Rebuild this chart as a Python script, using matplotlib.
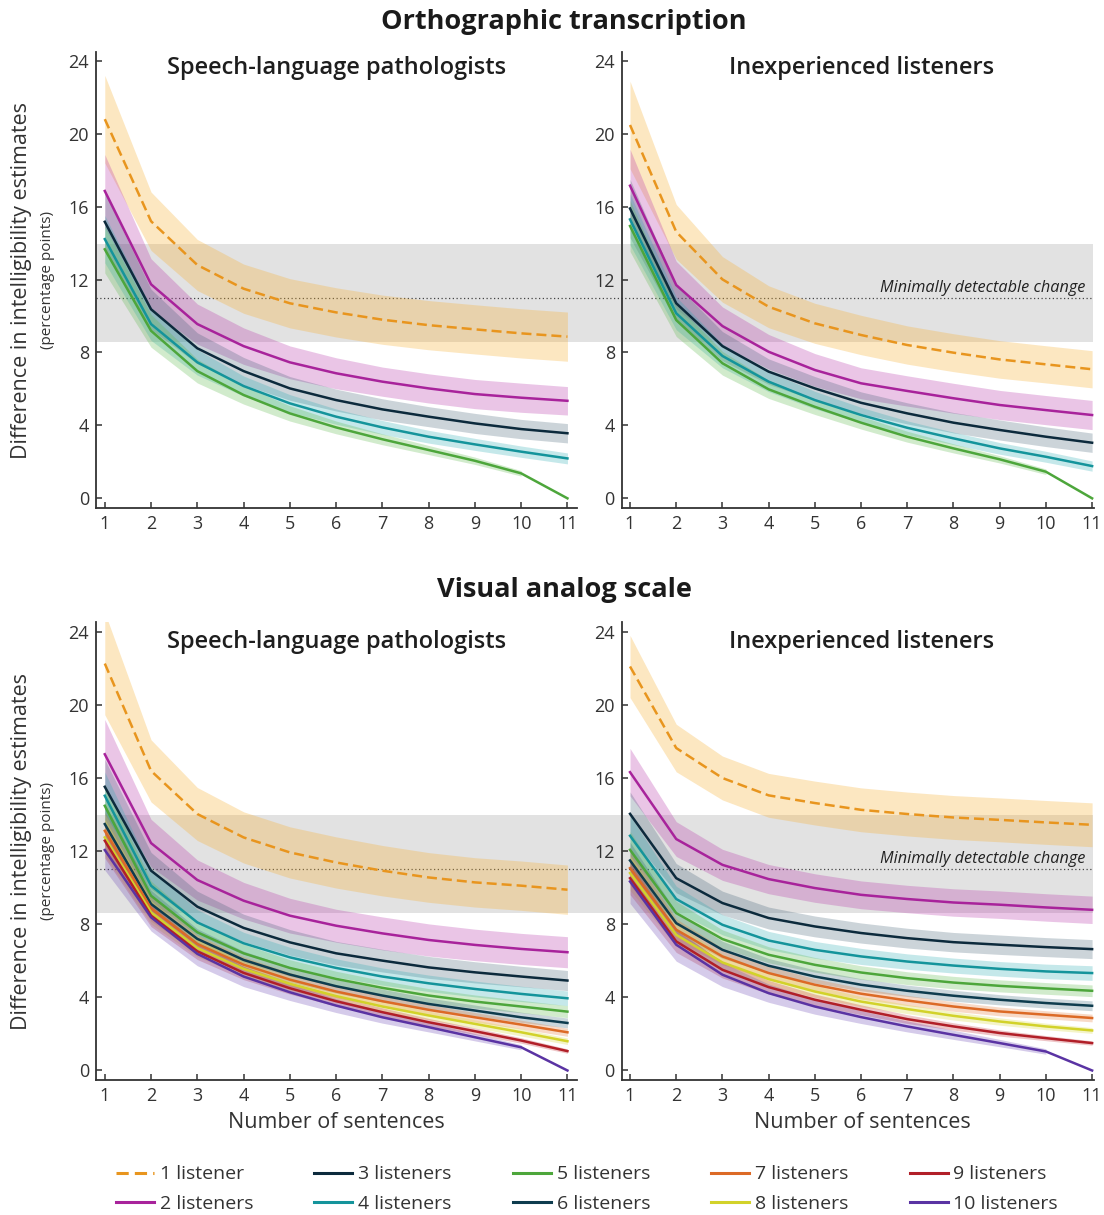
import numpy as np
import matplotlib
matplotlib.use("Agg")
import matplotlib.pyplot as plt
from matplotlib.transforms import blended_transform_factory
from matplotlib.patches import Rectangle
from matplotlib.lines import Line2D

nan = np.nan

# ---------------- data ----------------
sentences = list(range(1, 12))
listener_labels = ["1 listener", "2 listeners", "3 listeners", "4 listeners", "5 listeners",
                   "6 listeners", "7 listeners", "8 listeners", "9 listeners", "10 listeners"]
row_titles = ["Orthographic transcription", "Visual analog scale"]
panel_titles = ["Speech-language pathologists", "Inexperienced listeners"]
y_ticks = [0, 4, 8, 12, 16, 20, 24]
mdc_value = 11.0
mdc_low = 8.6
mdc_high = 13.95

# Orthographic transcription, speech-language pathologists
ot_slp_mean = [
    [20.8, 15.2, 12.8, 11.5, 10.7, 10.2, 9.8, 9.5, 9.27, 9.05, 8.87],
    [16.86, 11.74, 9.56, 8.35, 7.46, 6.86, 6.40, 6.03, 5.72, 5.52, 5.35],
    [15.17, 10.37, 8.23, 6.98, 6.03, 5.39, 4.88, 4.48, 4.11, 3.80, 3.57],
    [14.22, 9.56, 7.46, 6.16, 5.21, 4.48, 3.89, 3.38, 2.96, 2.56, 2.19],
    [13.66, 9.19, 6.98, 5.67, 4.66, 3.89, 3.24, 2.65, 2.06, 1.37, 0.0],
]
ot_slp_hw = [
    [2.4, 1.6, 1.4, 1.35, 1.35, 1.35, 1.35, 1.35, 1.35, 1.35, 1.35],
    [2.0, 1.4, 1.1, 1.0, 0.9, 0.85, 0.8, 0.8, 0.8, 0.8, 0.78],
    [1.6, 1.1, 0.85, 0.75, 0.65, 0.6, 0.58, 0.55, 0.55, 0.53, 0.53],
    [1.3, 0.9, 0.7, 0.55, 0.48, 0.42, 0.38, 0.35, 0.33, 0.31, 0.3],
    [1.3, 0.9, 0.65, 0.5, 0.42, 0.35, 0.3, 0.25, 0.2, 0.15, nan],
]
# Orthographic transcription, inexperienced listeners
ot_inexp_mean = [
    [20.48, 14.62, 12.01, 10.51, 9.6, 8.96, 8.41, 7.99, 7.62, 7.35, 7.08],
    [17.15, 11.7, 9.45, 8.04, 7.04, 6.31, 5.89, 5.49, 5.12, 4.84, 4.57],
    [15.9, 10.7, 8.35, 6.95, 6.03, 5.24, 4.66, 4.15, 3.75, 3.38, 3.05],
    [15.3, 10.15, 7.81, 6.40, 5.39, 4.57, 3.87, 3.29, 2.74, 2.28, 1.77],
    [14.94, 9.78, 7.41, 5.98, 5.02, 4.15, 3.38, 2.74, 2.14, 1.46, 0.0],
]
ot_inexp_hw = [
    [2.4, 1.5, 1.25, 1.15, 1.1, 1.08, 1.05, 1.04, 1.03, 1.02, 1.02],
    [2.0, 1.3, 1.05, 0.95, 0.9, 0.85, 0.83, 0.82, 0.8, 0.8, 0.8],
    [1.6, 1.0, 0.8, 0.7, 0.65, 0.6, 0.58, 0.56, 0.55, 0.54, 0.53],
    [1.4, 0.9, 0.65, 0.55, 0.48, 0.42, 0.38, 0.34, 0.32, 0.3, 0.28],
    [1.4, 0.9, 0.65, 0.5, 0.42, 0.35, 0.3, 0.25, 0.2, 0.15, nan],
]
# Visual analog scale, speech-language pathologists
vas_slp_mean = [
    [22.26, 16.39, 14.03, 12.75, 11.93, 11.38, 10.93, 10.56, 10.29, 10.11, 9.89],
    [17.3, 12.44, 10.42, 9.29, 8.47, 7.92, 7.5, 7.14, 6.87, 6.65, 6.47],
    [15.52, 10.93, 8.96, 7.8, 7.01, 6.41, 6.01, 5.64, 5.37, 5.14, 4.92],
    [15.03, 10.11, 8.1, 6.96, 6.19, 5.61, 5.14, 4.77, 4.46, 4.19, 3.95],
    [14.48, 9.56, 7.56, 6.41, 5.61, 5.01, 4.52, 4.1, 3.77, 3.5, 3.22],
    [13.48, 9.11, 7.2, 6.05, 5.25, 4.61, 4.1, 3.64, 3.28, 2.91, 2.6],
    [13.11, 8.87, 6.92, 5.79, 4.97, 4.32, 3.79, 3.32, 2.91, 2.51, 2.09],
    [12.75, 8.65, 6.7, 5.56, 4.74, 4.07, 3.5, 3.01, 2.55, 2.09, 1.6],
    [12.57, 8.47, 6.52, 5.34, 4.5, 3.79, 3.19, 2.64, 2.15, 1.64, 1.06],
    [12.06, 8.38, 6.38, 5.14, 4.28, 3.55, 2.91, 2.37, 1.82, 1.27, 0.0],
]
vas_slp_hw = [
    [2.8, 1.7, 1.45, 1.4, 1.4, 1.4, 1.38, 1.36, 1.35, 1.35, 1.35],
    [1.9, 1.3, 1.1, 1.0, 0.95, 0.9, 0.9, 0.88, 0.86, 0.85, 0.85],
    [1.5, 1.0, 0.85, 0.75, 0.7, 0.65, 0.62, 0.6, 0.58, 0.56, 0.55],
    [1.3, 0.85, 0.7, 0.6, 0.55, 0.5, 0.47, 0.45, 0.43, 0.42, 0.4],
    [1.2, 0.8, 0.6, 0.5, 0.45, 0.42, 0.4, 0.38, 0.36, 0.34, 0.33],
    [1.1, 0.75, 0.55, 0.48, 0.42, 0.38, 0.35, 0.33, 0.3, 0.28, 0.27],
    [1.0, 0.7, 0.5, 0.43, 0.38, 0.33, 0.3, 0.28, 0.26, 0.24, 0.22],
    [1.0, 0.65, 0.48, 0.4, 0.35, 0.3, 0.27, 0.24, 0.22, 0.2, 0.18],
    [0.95, 0.6, 0.45, 0.37, 0.32, 0.27, 0.24, 0.21, 0.18, 0.15, 0.12],
    [1.1, 0.75, 0.65, 0.55, 0.45, 0.38, 0.32, 0.26, 0.2, 0.14, nan],
]
# Visual analog scale, inexperienced listeners
vas_inexp_mean = [
    [22.1, 17.64, 16.0, 15.05, 14.63, 14.26, 14.03, 13.84, 13.71, 13.57, 13.44],
    [16.32, 12.66, 11.25, 10.47, 9.98, 9.61, 9.38, 9.19, 9.07, 8.92, 8.79],
    [14.04, 10.52, 9.16, 8.34, 7.88, 7.52, 7.24, 7.02, 6.88, 6.75, 6.64],
    [12.84, 9.38, 7.97, 7.11, 6.6, 6.24, 5.96, 5.74, 5.56, 5.42, 5.33],
    [12.07, 8.61, 7.19, 6.33, 5.78, 5.36, 5.05, 4.81, 4.63, 4.49, 4.36],
    [11.49, 8.06, 6.6, 5.73, 5.14, 4.69, 4.36, 4.09, 3.87, 3.69, 3.54],
    [11.07, 7.7, 6.24, 5.33, 4.69, 4.2, 3.83, 3.5, 3.23, 3.05, 2.87],
    [10.8, 7.42, 5.91, 5.0, 4.32, 3.77, 3.36, 2.99, 2.68, 2.41, 2.19],
    [10.52, 7.06, 5.51, 4.56, 3.87, 3.32, 2.81, 2.41, 2.05, 1.77, 1.5],
    [10.34, 6.88, 5.24, 4.23, 3.5, 2.92, 2.41, 1.95, 1.5, 1.04, 0.0],
]
vas_inexp_hw = [
    [1.7, 1.3, 1.2, 1.2, 1.2, 1.2, 1.2, 1.2, 1.2, 1.2, 1.2],
    [1.3, 0.95, 0.85, 0.8, 0.78, 0.76, 0.75, 0.75, 0.75, 0.75, 0.75],
    [1.2, 0.8, 0.65, 0.6, 0.57, 0.55, 0.54, 0.53, 0.53, 0.52, 0.52],
    [1.1, 0.7, 0.55, 0.5, 0.46, 0.44, 0.42, 0.41, 0.4, 0.4, 0.4],
    [1.0, 0.65, 0.5, 0.44, 0.4, 0.37, 0.35, 0.34, 0.33, 0.32, 0.32],
    [1.0, 0.62, 0.47, 0.4, 0.36, 0.33, 0.31, 0.3, 0.28, 0.27, 0.27],
    [0.95, 0.6, 0.45, 0.38, 0.33, 0.3, 0.28, 0.26, 0.24, 0.22, 0.21],
    [0.95, 0.6, 0.45, 0.37, 0.32, 0.28, 0.25, 0.23, 0.2, 0.18, 0.16],
    [0.9, 0.6, 0.45, 0.37, 0.31, 0.27, 0.24, 0.2, 0.17, 0.14, 0.12],
    [1.2, 0.9, 0.65, 0.5, 0.42, 0.35, 0.3, 0.25, 0.2, 0.15, nan],
]

colors = ["#E8951E", "#A8239B", "#0C2A3C", "#14949B", "#4DA63B",
          "#0E3C4E", "#DC6A26", "#D2D22A", "#B11F28", "#5A33A3"]
fill_colors = ["#F7B032", "#B62FA8", "#35566B", "#1FA9B0", "#5CB84A",
               "#2D5D70", "#E77B36", "#D9D93A", "#C23038", "#6A45B5"]
fill_alpha = [0.30, 0.28, 0.25, 0.26, 0.28, 0.25, 0.28, 0.28, 0.28, 0.28]
dash_style = (0, (4, 2))

# ---------------- figure ----------------
plt.rcParams["font.family"] = ["Open Sans", "DejaVu Sans"]
W, H = 1104, 1215
fig = plt.figure(figsize=(W / 100, H / 100), dpi=100)

def fx(px):
    return px / W

def fy(py):
    return 1 - py / H

txt_col = "#333333"

layout = {
    (0, 0): ([96, 51.7, 576.7, 508], (0.81, 11.2)),
    (0, 1): ([621.7, 51.7, 1093.5, 508], (0.82, 11.03)),
    (1, 0): ([96, 621.7, 576.7, 1080], (0.81, 11.2)),
    (1, 1): ([621.7, 621.7, 1093.5, 1080], (0.82, 11.03)),
}
ylims = {0: (-0.53, 24.5), 1: (-0.52, 24.55)}
title_y = {0: 0.965, 1: 0.955}

panels = {
    (0, 0): (ot_slp_mean, ot_slp_hw),
    (0, 1): (ot_inexp_mean, ot_inexp_hw),
    (1, 0): (vas_slp_mean, vas_slp_hw),
    (1, 1): (vas_inexp_mean, vas_inexp_hw),
}

axes = {}
for (r, c), (box, xlim) in layout.items():
    l, t, rr, b = box
    ax = fig.add_axes([fx(l), fy(b), fx(rr) - fx(l), (b - t) / H])
    ax.set_facecolor("none")
    ax.set_xlim(*xlim)
    ax.set_ylim(*ylims[r])
    ax.set_xticks(sentences)
    ax.set_yticks(y_ticks)
    ax.tick_params(direction="in", length=4, width=1.1, colors=txt_col,
                   labelsize=13, pad=5)
    for s in ["top", "right"]:
        ax.spines[s].set_visible(False)
    for s in ["left", "bottom"]:
        ax.spines[s].set_color(txt_col)
        ax.spines[s].set_linewidth(1.3)
    axes[(r, c)] = ax

    means, hws = panels[(r, c)]
    x = np.array(sentences, dtype=float)
    for i, (m, hw) in enumerate(zip(means, hws)):
        m = np.array(m)
        hw = np.array(hw)
        ax.fill_between(x, m - hw, m + hw, color=fill_colors[i],
                        alpha=fill_alpha[i], lw=0, zorder=1)
    for i, m in enumerate(means):
        ls = dash_style if i == 0 else "-"
        ax.plot(x, m, color=colors[i], lw=1.8, ls=ls, zorder=3 + (0.1 * i))

    tt = blended_transform_factory(ax.transData, ax.transAxes)
    ax.text(6, title_y[r], panel_titles[c], transform=tt, ha="center",
            va="center", fontsize=17, fontweight="semibold", color="#1e1e1e")

# grey MDC band and dotted line spanning both panels of a row
for r in (0, 1):
    axl = axes[(r, 0)]
    trans = blended_transform_factory(fig.transFigure, axl.transData)
    x0, x1 = fx(96), fx(1093)
    rect = Rectangle((x0, mdc_low), x1 - x0, mdc_high - mdc_low,
                     transform=trans, facecolor="#e2e2e2", edgecolor="none",
                     zorder=0.5, clip_on=False)
    axl.add_artist(rect)
    ln = Line2D([x0, x1], [mdc_value, mdc_value], transform=trans,
                color="#444444", lw=0.9, ls=(0, (1, 2)), zorder=0.6,
                clip_on=False)
    axl.add_artist(ln)
    axr = axes[(r, 1)]
    axr.text(10.85, 11.55, "Minimally detectable change", ha="right",
             va="center", fontsize=11.7, style="italic", color="#222222",
             zorder=5)

# row titles
fig.text(fx(564), fy(22), row_titles[0], ha="center", va="center",
         fontsize=19.5, fontweight="bold", color="#1a1a1a")
fig.text(fx(564), fy(590), row_titles[1], ha="center", va="center",
         fontsize=19.5, fontweight="bold", color="#1a1a1a")

# y labels
for cy in (280, 851):
    fig.text(fx(22), fy(cy), "Difference in intelligibility estimates",
             rotation=90, ha="center", va="center", fontsize=15.5, color=txt_col)
    fig.text(fx(48), fy(cy), "(percentage points)", rotation=90,
             ha="center", va="center", fontsize=11, color=txt_col)

# x labels
for cx in (336, 862):
    fig.text(fx(cx), fy(1123), "Number of sentences", ha="center",
             va="center", fontsize=15.5, color=txt_col)

# legend
handles = [Line2D([], [], color=colors[i], lw=2.2,
                  ls=(dash_style if i == 0 else "-")) for i in range(10)]
fig.legend(handles, listener_labels, ncol=5, loc="center",
           bbox_to_anchor=(fx(587), fy(1189)), frameon=False, fontsize=14,
           handlelength=1.95, handletextpad=0.3, columnspacing=3.15,
           labelspacing=0.58, labelcolor=txt_col)

fig.savefig("out.png", dpi=100)
